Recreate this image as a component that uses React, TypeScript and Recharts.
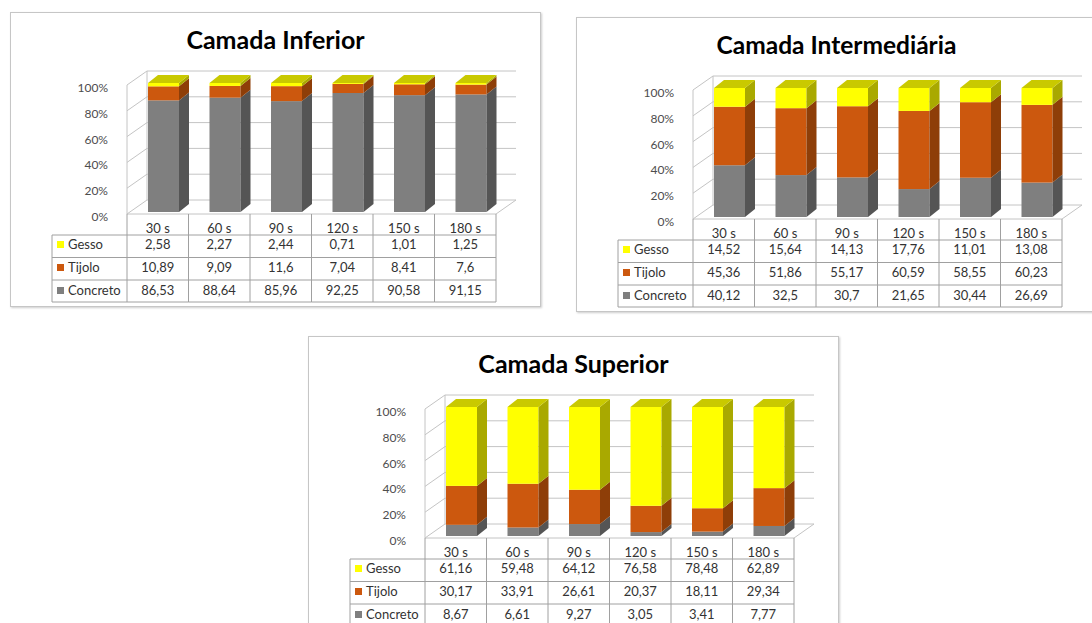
import { BarChart, Bar, XAxis, YAxis, CartesianGrid } from 'recharts'

const CATEGORIES = ['30 s', '60 s', '90 s', '120 s', '150 s', '180 s']
const PERCENT_TICKS = [0, 0.2, 0.4, 0.6, 0.8, 1]

const INFERIOR_GESSO = [2.58, 2.27, 2.44, 0.71, 1.01, 1.25]
const INFERIOR_TIJOLO = [10.89, 9.09, 11.6, 7.04, 8.41, 7.6]
const INFERIOR_CONCRETO = [86.53, 88.64, 85.96, 92.25, 90.58, 91.15]

const INTERMEDIARIA_GESSO = [14.52, 15.64, 14.13, 17.76, 11.01, 13.08]
const INTERMEDIARIA_TIJOLO = [45.36, 51.86, 55.17, 60.59, 58.55, 60.23]
const INTERMEDIARIA_CONCRETO = [40.12, 32.5, 30.7, 21.65, 30.44, 26.69]

const SUPERIOR_GESSO = [61.16, 59.48, 64.12, 76.58, 78.48, 62.89]
const SUPERIOR_TIJOLO = [30.17, 33.91, 26.61, 20.37, 18.11, 29.34]
const SUPERIOR_CONCRETO = [8.67, 6.61, 9.27, 3.05, 3.41, 7.77]

// chart box and plot layout (local px)
const W = 531
const H = 295
const PLOT_L = 117
const PLOT_R = 486
const PLOT_T = 73
const PLOT_B = 202
const BAND = (PLOT_R - PLOT_L) / CATEGORIES.length
const DX = 20 // wall depth
const DY = 14
const SDX = 10 // bar depth
const SDY = 8
const SHIFT_X = 6
const SHIFT_Y = -2
const TABLE_L = 42
const ROW_LINES = [21, 43.5, 66, 88]
const ROW_TEXT = [35, 58, 81]

const FONT = 'Lato, "Open Sans", sans-serif'
const GRID = '#c4c4c4'
const TABLE_LINE = '#a0a0a0'
const TEXT = '#333333'

const COLORS = {
  gesso: { front: '#ffff00', side: '#a9a900', top: '#c9c900' },
  tijolo: { front: '#cc580e', side: '#8e3e08', top: '#b04c0a' },
  concreto: { front: '#7f7f7f', side: '#555555', top: '#6a6a6a' },
}

const fmt = (v: number) => String(v).replace('.', ',')

function WallLine(p: any) {
  const { x1, x2, y1, index } = p
  const pts: number[] = p.horizontalPoints && p.horizontalPoints.length ? p.horizontalPoints : []
  const top = pts.length ? Math.min(...pts) : PLOT_T
  const bottom = pts.length ? Math.max(...pts) : PLOT_B
  const isFloor = Math.abs(y1 - bottom) < 0.5
  const isTop = Math.abs(y1 - top) < 0.5
  return (
    <g key={`wall-${index}`} stroke={GRID} strokeWidth={1} fill="none">
      <line x1={x1} y1={y1} x2={x1 + DX} y2={y1 - DY} />
      <line x1={x1 + DX} y1={y1 - DY} x2={x2 + DX} y2={y1 - DY} />
      {isFloor && (
        <>
          <line x1={x1} y1={y1} x2={x2} y2={y1} />
          <line x1={x2} y1={y1} x2={x2 + DX} y2={y1 - DY} />
        </>
      )}
      {isTop && (
        <>
          <line x1={x1 + DX} y1={y1 - DY} x2={x1 + DX} y2={bottom - DY} />
          <line x1={x1} y1={y1} x2={x1} y2={bottom} />
        </>
      )}
    </g>
  )
}

function Block3D(props: any) {
  const { x, y, width, height, colors, withTop } = props
  if (!width || height == null) return null
  const bx = x + SHIFT_X
  const by = y + SHIFT_Y
  const w = width
  const h = height
  return (
    <g>
      <rect x={bx} y={by} width={w} height={h} fill={colors.front} />
      <polygon
        points={`${bx + w},${by} ${bx + w + SDX},${by - SDY} ${bx + w + SDX},${by + h - SDY} ${bx + w},${by + h}`}
        fill={colors.side}
      />
      {withTop && (
        <polygon
          points={`${bx},${by} ${bx + SDX},${by - SDY} ${bx + w + SDX},${by - SDY} ${bx + w},${by}`}
          fill={colors.top}
        />
      )}
    </g>
  )
}

function PercentTick(p: any) {
  return (
    <text x={p.x - 19} y={p.y + 7} textAnchor="end" fontSize={12} fill="#4d4d4d" fontFamily={FONT}>
      {`${Math.round(p.payload.value * 100)}%`}
    </text>
  )
}

function TableColumn(p: any) {
  const { x, y, payload, series } = p
  const i = payload.index
  const half = payload.offset || BAND / 2
  const l = x - half
  const r = x + half
  const values = series.map((s: any) => s.values[i])
  return (
    <g fontFamily={FONT} fontSize={13} fill={TEXT}>
      <line x1={r} y1={y} x2={r} y2={y + ROW_LINES[3]} stroke={TABLE_LINE} />
      {i === 0 && <line x1={l} y1={y} x2={l} y2={y + ROW_LINES[3]} stroke={TABLE_LINE} />}
      {ROW_LINES.map((d) => (
        <line key={d} x1={l} y1={y + d} x2={r} y2={y + d} stroke={TABLE_LINE} />
      ))}
      <text x={x} y={y + 18.5} textAnchor="middle">{payload.value}</text>
      {values.map((v: number, k: number) => (
        <text key={k} x={x} y={y + ROW_TEXT[k]} textAnchor="middle">{fmt(v)}</text>
      ))}
      {i === 0 && (
        <g>
          <line x1={TABLE_L} y1={y + ROW_LINES[0]} x2={TABLE_L} y2={y + ROW_LINES[3]} stroke={TABLE_LINE} />
          {ROW_LINES.map((d) => (
            <line key={d} x1={TABLE_L} y1={y + d} x2={l} y2={y + d} stroke={TABLE_LINE} />
          ))}
          {series.map((s: any, k: number) => (
            <g key={s.name}>
              <rect x={TABLE_L + 5} y={y + ROW_TEXT[k] - 8} width={7} height={7} fill={s.colors.front} />
              <text x={TABLE_L + 16} y={y + ROW_TEXT[k]}>{s.name}</text>
            </g>
          ))}
        </g>
      )}
    </g>
  )
}

function LayerChart({ title, titleDx = 0, titleSize = 25, left, top, gesso, tijolo, concreto }: any) {
  const data = CATEGORIES.map((cat, i) => ({ cat, gesso: gesso[i], tijolo: tijolo[i], concreto: concreto[i] }))
  const series = [
    { name: 'Gesso', values: gesso, colors: COLORS.gesso },
    { name: 'Tijolo', values: tijolo, colors: COLORS.tijolo },
    { name: 'Concreto', values: concreto, colors: COLORS.concreto },
  ]
  return (
    <div style={{ position: 'absolute', left, top, width: W, height: H, background: '#fff' }}>
      <div
        style={{
          position: 'absolute', inset: 0, border: '1px solid #c6c6c6',
          boxShadow: '1px 1px 2px rgba(0,0,0,0.2)', pointerEvents: 'none',
        }}
      />
      <svg width={W} height={45} style={{ position: 'absolute', left: 0, top: 0 }}>
        <text x={W / 2 + titleDx} y={37} textAnchor="middle" fontFamily={FONT} fontWeight={700} fontSize={titleSize} fill="#000">
          {title}
        </text>
      </svg>
      <div style={{ position: 'absolute', left: 0, top: 0 }}>
        <BarChart
          width={W}
          height={H}
          data={data}
          stackOffset="expand"
          barSize={31}
          margin={{ top: PLOT_T, right: W - PLOT_R, bottom: 0, left: 0 }}
        >
          <CartesianGrid vertical={false} horizontal={(p: any) => <WallLine {...p} />} />
          <XAxis
            dataKey="cat"
            height={H - PLOT_B}
            axisLine={false}
            tickLine={false}
            tickSize={0}
            tickMargin={0}
            interval={0}
            tick={(p: any) => <TableColumn {...p} series={series} />}
          />
          <YAxis
            width={PLOT_L}
            domain={[0, 1]}
            ticks={PERCENT_TICKS}
            axisLine={false}
            tickLine={false}
            tickSize={0}
            tickMargin={0}
            tick={(p: any) => <PercentTick {...p} />}
          />
          <Bar dataKey="concreto" stackId="a" isAnimationActive={false}
            shape={(p: any) => <Block3D {...p} colors={COLORS.concreto} />} />
          <Bar dataKey="tijolo" stackId="a" isAnimationActive={false}
            shape={(p: any) => <Block3D {...p} colors={COLORS.tijolo} />} />
          <Bar dataKey="gesso" stackId="a" isAnimationActive={false}
            shape={(p: any) => <Block3D {...p} colors={COLORS.gesso} withTop />} />
        </BarChart>
      </div>
    </div>
  )
}

export default function App() {
  return (
    <div style={{ position: 'fixed', left: 0, top: 0, width: 1092, height: 623, overflow: 'hidden', background: '#fff' }}>
      <LayerChart title="Camada Inferior" left={10} top={12}
        gesso={INFERIOR_GESSO} tijolo={INFERIOR_TIJOLO} concreto={INFERIOR_CONCRETO} />
      <LayerChart title="Camada Intermediária" titleDx={-5} titleSize={24.5} left={576} top={17}
        gesso={INTERMEDIARIA_GESSO} tijolo={INTERMEDIARIA_TIJOLO} concreto={INTERMEDIARIA_CONCRETO} />
      <LayerChart title="Camada Superior" left={308} top={336}
        gesso={SUPERIOR_GESSO} tijolo={SUPERIOR_TIJOLO} concreto={SUPERIOR_CONCRETO} />
    </div>
  )
}
